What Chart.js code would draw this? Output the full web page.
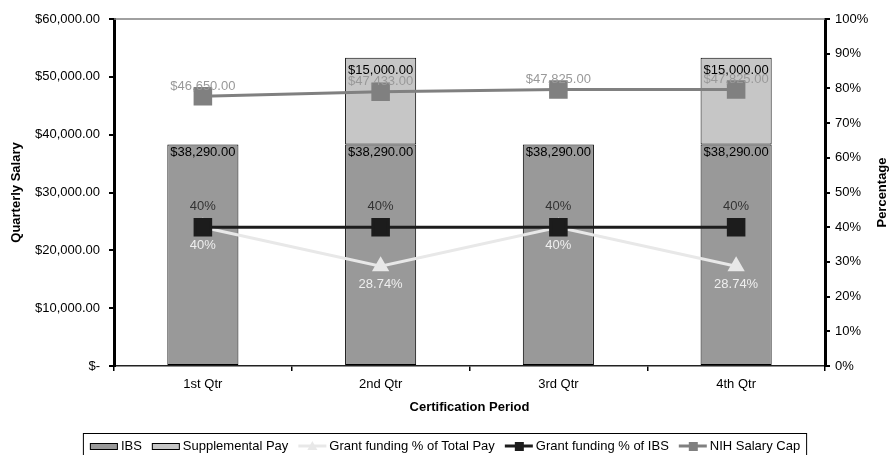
<!DOCTYPE html>
<html>
<head>
<meta charset="utf-8">
<script src="https://cdn.jsdelivr.net/npm/chart.js@4.4.1/dist/chart.umd.min.js"></script>
<style>
  html, body { margin: 0; padding: 0; background: #fff; }
  #wrap { width: 889px; height: 455px; }
</style>
</head>
<body>
<div id="wrap"><canvas id="salario"></canvas></div>
<script>
const quarters = ["1st Qtr", "2nd Qtr", "3rd Qtr", "4th Qtr"];
const ibs = [38290, 38290, 38290, 38290];
const supplemental = [null, 15000, null, 15000];
const grantTotalPay = [40, 28.74, 40, 28.74];
const grantIbs = [40, 40, 40, 40];
const nihCap = [46650, 47433, 47825, 47825];

const FONT = "'Liberation Sans', Arial, sans-serif";

function dinheiro(v) {
  return "$" + v.toLocaleString("en-US", { minimumFractionDigits: 2, maximumFractionDigits: 2 });
}
function pct(v) {
  return (Math.round(v * 100) / 100) + "%";
}

// rotulos dos dados, legenda e titulo da direita
const extras = {
  id: "extras",
  beforeDatasetsDraw(chart) {
    const { ctx, chartArea } = chart;
    ctx.save();
    ctx.strokeStyle = "#808080";
    ctx.lineWidth = 1.5;
    ctx.beginPath();
    ctx.moveTo(chartArea.left, chartArea.top);
    ctx.lineTo(chartArea.right, chartArea.top);
    ctx.stroke();
    ctx.restore();
  },
  afterDatasetsDraw(chart) {
    const { ctx } = chart;
    ctx.save();
    ctx.font = "13px " + FONT;
    ctx.textAlign = "center";
    ctx.textBaseline = "middle";

    // barras
    [0, 1].forEach((i) => {
      const meta = chart.getDatasetMeta(i);
      const vals = chart.data.datasets[i].data;
      meta.data.forEach((el, j) => {
        if (vals[j] == null) return;
        ctx.fillStyle = "#000";
        ctx.fillText(dinheiro(vals[j]), el.x, el.y + (i === 0 ? 8 : 13));
      });
    });

    // grant % of total pay (abaixo)
    chart.getDatasetMeta(2).data.forEach((el, j) => {
      ctx.fillStyle = "#eeeeee";
      ctx.fillText(pct(grantTotalPay[j]), el.x, el.y + 18);
    });
    // grant % of IBS (acima)
    chart.getDatasetMeta(3).data.forEach((el, j) => {
      ctx.fillStyle = "#333333";
      ctx.fillText(pct(grantIbs[j]), el.x, el.y - 21);
    });
    // NIH cap (acima)
    chart.getDatasetMeta(4).data.forEach((el, j) => {
      ctx.fillStyle = "#999999";
      ctx.fillText(dinheiro(nihCap[j]), el.x, el.y - 10);
    });
    ctx.restore();
  },
  afterDraw(chart) {
    const { ctx } = chart;
    ctx.save();

    // titulo eixo direito
    ctx.font = "bold 13px " + FONT;
    ctx.fillStyle = "#000";
    ctx.textAlign = "center";
    ctx.textBaseline = "middle";
    ctx.translate(882, (chart.chartArea.top + chart.chartArea.bottom) / 2);
    ctx.rotate(-Math.PI / 2);
    ctx.fillText("Percentage", 0, 0);
    ctx.setTransform(1, 0, 0, 1, 0, 0);

    // legenda
    ctx.font = "13px " + FONT;
    const itens = chart.data.datasets.map((d) => ({ ds: d, w: 28 + 3 + ctx.measureText(d.label).width }));
    const gap = 10;
    const total = itens.reduce((s, it) => s + it.w, 0) + gap * (itens.length - 1);
    let x = 445 - total / 2;
    const y = 446;

    ctx.strokeStyle = "#000";
    ctx.lineWidth = 1;
    ctx.strokeRect(x - 6.5, 433.5, total + 13, 30);

    itens.forEach((it) => {
      const d = it.ds;
      if (d.type === "bar") {
        ctx.fillStyle = d.backgroundColor;
        ctx.fillRect(x, y - 3, 28, 6);
        ctx.strokeStyle = "#000";
        ctx.strokeRect(x + 0.5, y - 2.5, 27, 6);
      } else {
        ctx.strokeStyle = d.borderColor;
        ctx.lineWidth = 3;
        ctx.beginPath();
        ctx.moveTo(x, y);
        ctx.lineTo(x + 28, y);
        ctx.stroke();
        ctx.fillStyle = d.pointBackgroundColor;
        if (d.pointStyle === "triangle") {
          ctx.beginPath();
          ctx.moveTo(x + 14, y - 5);
          ctx.lineTo(x + 19, y + 4);
          ctx.lineTo(x + 9, y + 4);
          ctx.closePath();
          ctx.fill();
        } else {
          ctx.fillRect(x + 10, y - 4, 9, 9);
        }
      }
      ctx.fillStyle = "#000";
      ctx.textAlign = "left";
      ctx.textBaseline = "middle";
      ctx.fillText(d.label, x + 31, y);
      x += it.w + gap;
    });
    ctx.restore();
  },
};

const grade = {
  drawOnChartArea: false,
  drawTicks: true,
  tickLength: 5,
  color: "#000",
  lineWidth: 2,
};

new Chart(document.getElementById("salario"), {
  type: "bar",
  data: {
    labels: quarters,
    datasets: [
      {
        type: "bar",
        label: "IBS",
        data: ibs,
        backgroundColor: "#999999",
        borderColor: "#000",
        borderWidth: 1,
        borderSkipped: false,
        stack: "salario",
        yAxisID: "y",
        order: 5,
      },
      {
        type: "bar",
        label: "Supplemental Pay",
        data: supplemental,
        backgroundColor: "#c6c6c6",
        borderColor: "#000",
        borderWidth: 1,
        borderSkipped: false,
        stack: "salario",
        yAxisID: "y",
        order: 5,
      },
      {
        type: "line",
        label: "Grant funding % of Total Pay",
        data: grantTotalPay,
        borderColor: "#e8e8e8",
        backgroundColor: "#e8e8e8",
        pointBackgroundColor: "#e8e8e8",
        pointBorderColor: "#e8e8e8",
        borderWidth: 3,
        pointStyle: "triangle",
        pointRadius: 7,
        stack: "a",
        yAxisID: "y1",
        order: 3,
      },
      {
        type: "line",
        label: "Grant funding % of IBS",
        data: grantIbs,
        borderColor: "#1c1c1c",
        backgroundColor: "#1c1c1c",
        pointBackgroundColor: "#1c1c1c",
        pointBorderColor: "#1c1c1c",
        borderWidth: 3,
        pointStyle: "rect",
        pointRadius: 11,
        stack: "b",
        yAxisID: "y1",
        order: 2,
      },
      {
        type: "line",
        label: "NIH Salary Cap",
        data: nihCap,
        borderColor: "#808080",
        backgroundColor: "#808080",
        pointBackgroundColor: "#808080",
        pointBorderColor: "#808080",
        borderWidth: 3,
        pointStyle: "rect",
        pointRadius: 11,
        stack: "c",
        yAxisID: "y",
        order: 1,
      },
    ],
  },
  options: {
    responsive: true,
    maintainAspectRatio: false,
    animation: false,
    layout: { padding: { top: 19, left: 0, right: 0, bottom: 0 } },
    datasets: { bar: { barPercentage: 0.8, categoryPercentage: 0.5 } },
    plugins: {
      legend: { display: false },
      tooltip: { enabled: false },
    },
    scales: {
      x: {
        stacked: true,
        offset: true,
        grid: { ...grade, offset: true, lineWidth: 1.5 },
        border: { display: true, color: "#222", width: 1.5 },
        ticks: { color: "#000", font: { family: FONT, size: 13 }, padding: 6 },
        title: {
          display: true,
          text: "Certification Period",
          color: "#000",
          font: { family: FONT, size: 13, weight: "bold" },
          padding: { top: 0, bottom: 40 },
        },
        afterFit(scale) { scale.height = 89; },
      },
      y: {
        position: "left",
        min: 0,
        max: 60000,
        grid: grade,
        border: { display: true, color: "#000", width: 3 },
        ticks: {
          stepSize: 10000,
          color: "#000",
          font: { family: FONT, size: 13 },
          padding: 9,
          callback: (v) => (v === 0 ? "$-" : dinheiro(v)),
        },
        title: {
          display: true,
          text: "Quarterly Salary",
          color: "#000",
          font: { family: FONT, size: 13, weight: "bold" },
          padding: { top: 9, bottom: 0 },
        },
        afterFit(scale) { scale.width = 114; },
      },
      y1: {
        position: "right",
        min: 0,
        max: 100,
        grid: grade,
        border: { display: true, color: "#000", width: 3 },
        ticks: {
          stepSize: 10,
          color: "#000",
          font: { family: FONT, size: 13 },
          padding: 5,
          callback: (v) => v + "%",
        },
        afterFit(scale) { scale.width = 64; },
      },
    },
  },
  plugins: [extras],
});
</script>
</body>
</html>
